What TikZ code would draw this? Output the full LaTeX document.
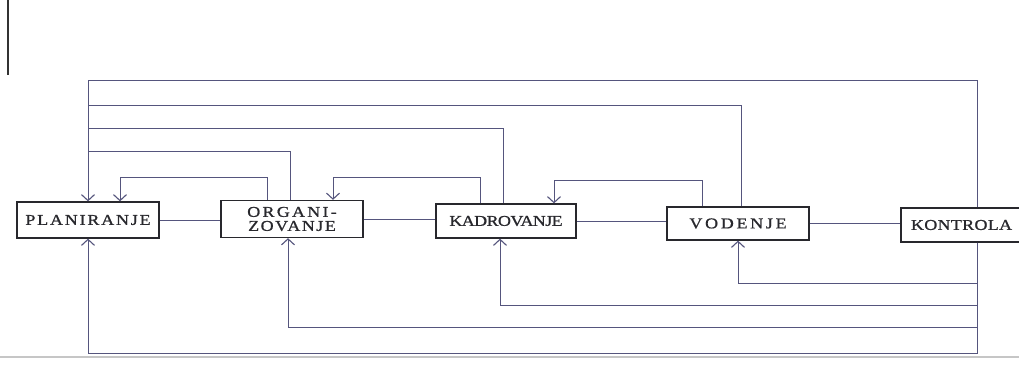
\documentclass[tikz,border=0pt]{standalone}
\usepackage{fontspec}
\setmainfont{Liberation Serif}[FakeBold=0.9,FakeStretch=1.2]
\usetikzlibrary{arrows.meta}
\definecolor{linec}{RGB}{85,85,125}
\definecolor{boxc}{RGB}{40,40,45}
\newcommand{\lsp}[2]{{\addfontfeature{LetterSpace=#1}#2}}
\begin{document}
\begin{tikzpicture}[x=1pt,y=-1pt,
  box/.style={draw=boxc, line width=1.3pt, inner sep=0pt, font=\fontsize{15}{16}\selectfont, text=boxc},
  wire/.style={draw=linec, line width=0.9pt},
  arr/.style={wire, -{Straight Barb[length=6pt,width=13pt,line width=1.1pt]}}]
\clip (0,0) rectangle (1019,381);
\fill[white] (0,0) rectangle (1019,381);
% page edge artifacts
\draw[black!80, line width=2pt] (8,0) -- (8,75);
\draw[gray!45, line width=2.5pt] (0,357) -- (1019,357);
% boxes
\node[box, minimum width=142pt, minimum height=36pt] (P) at (88,220) {\lsp{12}{PLANIRANJE}};
\node[box, minimum width=142pt, minimum height=37pt, align=center, font=\fontsize{15}{14}\selectfont] (O) at (292,219) {\lsp{15}{ORGANI-}\\\lsp{10}{ZOVANJE}};
\node[box, minimum width=140pt, minimum height=34pt] (K) at (506,221) {\lsp{-4}{KADROVANJE}};
\node[box, minimum width=142pt, minimum height=33pt] (V) at (738,223.5) {\lsp{18}{VODENJE}};
\node[box, minimum width=152pt, minimum height=34pt, text width=144pt, align=left] (T) at (977,225) {\hspace*{6pt}\lsp{2}{KONTROLA}};
% forward chain
\draw[wire] (P.east) -- (O.west |- P.east);
\draw[wire] (O.east) -- (K.west |- O.east);
\draw[wire] (K.east) -- (V.west |- K.east);
\draw[wire] (V.east) -- (T.west |- V.east);
% long feedback over the top to planning
\draw[arr] (T.north) |- (P.north |- 0,80) -- (P.north);
\draw[wire] ([xshift=3pt]V.north) |- (P.north |- 0,105);
\draw[wire] ([xshift=-3pt]K.north) |- (P.north |- 0,128);
\draw[wire] ([xshift=-2pt]O.north) |- (P.north |- 0,151);
% short feedback loops
\draw[arr] ([xshift=-25pt]O.north) |- ([xshift=32pt]P.north |- 0,177) -- ([xshift=32pt]P.north);
\draw[arr] ([xshift=-26pt]K.north) |- ([xshift=41pt]O.north |- 0,177) -- ([xshift=41pt]O.north);
\draw[arr] ([xshift=-36pt]V.north) |- ([xshift=48pt]K.north |- 0,180) -- ([xshift=48pt]K.north);
% feedback from control below
\draw[arr] (T.south) |- (V.south |- 0,283) -- (V.south);
\draw[arr] (T.south) |- ([xshift=-6pt]K.south |- 0,305) -- ([xshift=-6pt]K.south);
\draw[arr] (T.south) |- ([xshift=-4pt]O.south |- 0,327) -- ([xshift=-4pt]O.south);
\draw[arr] (T.south) |- (P.south |- 0,353) -- (P.south);
\end{tikzpicture}
\end{document}
